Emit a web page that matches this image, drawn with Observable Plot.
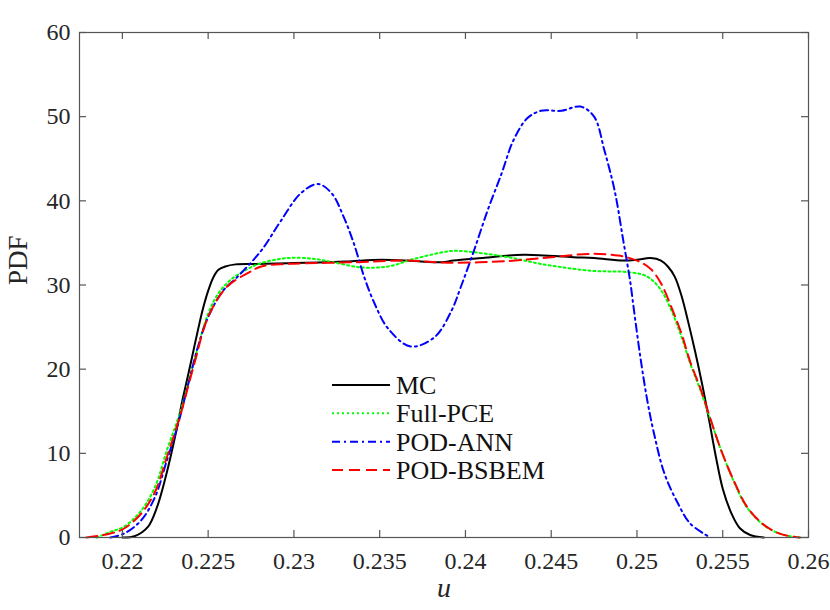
<!DOCTYPE html>
<html><head><meta charset="utf-8">
<script src="https://cdn.jsdelivr.net/npm/d3@7"></script>
<script src="https://cdn.jsdelivr.net/npm/@observablehq/plot@0.6"></script>
<style>
body{margin:0;background:#fff;}
#wrap{position:relative;width:830px;height:610px;}
#legend{position:absolute;left:0;top:0;pointer-events:none;}
</style></head><body><div id="wrap"></div>
<script>
// ---- data ----
const xTicks = [0.22, 0.225, 0.23, 0.235, 0.24, 0.245, 0.25, 0.255, 0.26];
const yTicks = [0, 10, 20, 30, 40, 50, 60];
const seriesNames = ["MC", "Full-PCE", "POD-ANN", "POD-BSBEM"];
const seriesColors = ["#000000", "#00ff00", "#0000ff", "#ff0000"];
const seriesDash = [null, "2,3", "8,4,2,4", "11,6"];

const mc = [[0.2200,0],[0.2207,0.15],[0.2215,1.3],[0.2220,3.5],[0.2225,7.0],[0.2229,10.4],[0.2232,13.2],[0.2235,16.3],[0.2238,19.0],[0.2241,21.8],[0.2244,24.6],[0.2247,27.2],[0.2250,29.3],[0.2253,30.9],[0.2256,31.8],[0.2260,32.2],[0.2266,32.45],[0.2277,32.5],[0.2300,32.6],[0.2330,32.8],[0.2351,33.0],[0.2370,32.85],[0.2386,32.7],[0.2393,32.9],[0.2410,33.2],[0.2434,33.6],[0.2463,33.3],[0.2475,33.2],[0.2492,32.9],[0.2500,33.0],[0.2508,33.2],[0.2514,32.9],[0.2518,32.2],[0.2522,31.0],[0.2526,28.7],[0.2530,25.5],[0.2534,22.0],[0.2538,18.2],[0.2542,14.0],[0.2546,9.6],[0.2550,5.8],[0.2555,2.9],[0.2560,1.1],[0.2566,0.3],[0.2574,0]];
const fullPce = [[0.2185,0],[0.2193,0.67],[0.2201,1.3],[0.2211,3.2],[0.2219,6.0],[0.2226,10.4],[0.2234,15.1],[0.2242,21.1],[0.2250,26.6],[0.2256,29.0],[0.2263,30.6],[0.2273,31.9],[0.2281,32.6],[0.2296,33.2],[0.2312,33.1],[0.2323,32.7],[0.2339,32.1],[0.2355,32.2],[0.2370,33.1],[0.2390,34.0],[0.2397,34.05],[0.2425,33.3],[0.2444,32.5],[0.2473,31.7],[0.2496,31.5],[0.2506,31.0],[0.2514,29.4],[0.2520,27.0],[0.2526,23.8],[0.2531,20.7],[0.2537,17.5],[0.2543,13.9],[0.2549,10.4],[0.2557,6.4],[0.2564,3.6],[0.2574,1.46],[0.2584,0.4],[0.2595,0]];
const podAnn = [[0.2193,0],[0.2201,0.47],[0.2211,2.05],[0.2219,4.8],[0.2226,9.2],[0.2232,13.1],[0.2238,17.9],[0.2244,22.6],[0.2250,26.2],[0.2259,29.4],[0.2267,30.95],[0.2281,34.1],[0.2292,37.5],[0.2304,40.9],[0.2314,42.0],[0.2322,40.9],[0.2329,38.1],[0.2335,34.9],[0.2341,30.95],[0.2347,27.8],[0.2355,24.8],[0.2368,22.7],[0.2382,23.8],[0.2392,27.0],[0.2397,29.6],[0.2405,34.1],[0.2413,38.9],[0.2421,43.2],[0.2428,47.2],[0.2436,49.8],[0.2444,50.7],[0.2456,50.7],[0.2467,51.2],[0.2475,50.0],[0.2481,46.0],[0.2487,41.2],[0.2492,35.3],[0.2496,30.5],[0.2498,27.4],[0.2502,21.4],[0.2506,16.3],[0.2510,12.3],[0.2516,7.6],[0.2524,4.0],[0.2531,1.66],[0.2541,0.2]];
const podBsbem = [[0.2179,0],[0.2193,0.47],[0.2201,1.07],[0.2211,2.85],[0.2219,5.4],[0.2226,9.6],[0.2234,14.7],[0.2242,20.7],[0.2250,26.2],[0.2261,29.8],[0.2273,31.4],[0.2281,32.2],[0.2296,32.5],[0.2335,32.7],[0.2366,32.9],[0.2390,32.65],[0.2425,32.85],[0.2450,33.3],[0.2473,33.7],[0.2489,33.5],[0.2500,32.9],[0.2508,31.9],[0.2514,30.2],[0.2520,27.4],[0.2526,24.2],[0.2531,20.9],[0.2537,17.7],[0.2543,14.0],[0.2549,10.4],[0.2557,6.5],[0.2564,3.7],[0.2574,1.5],[0.2584,0.4],[0.2595,0]];

const seriesData = [mc, fullPce, podAnn, podBsbem];

// ---- layout ----
const width = 830, height = 610;
const mL = 79, mT = 32, mR = 22, mB = 73;
const W = width - mL - mR, H = height - mT - mB;
const tickLen = 7;
const axisColor = "#555555";
const font = "Liberation Serif";

const rows = seriesData.flatMap((arr, i) => arr.map(([u, p]) => ({u, p, s: seriesNames[i]})));

const lineMarks = seriesNames.map((name, i) =>
  Plot.line(rows.filter(d => d.s === name), {
    x: "u", y: "p", stroke: seriesColors[i], strokeWidth: 2,
    strokeDasharray: seriesDash[i] || undefined, curve: "catmull-rom"
  })
);

const fmt = d => String(+d.toFixed(3));

const chart = Plot.plot({
  width, height,
  marginLeft: mL, marginTop: mT, marginRight: mR, marginBottom: mB,
  style: {fontFamily: font, fontSize: "24px", color: "#262626", background: "#fff"},
  x: {domain: [0.2175, 0.26]},
  y: {domain: [0, 60]},
  marks: [
    ...lineMarks,
    Plot.frame({stroke: axisColor, strokeWidth: 1.2}),
    Plot.tickX(xTicks, {x: d => d, insetTop: H - tickLen, stroke: axisColor, strokeWidth: 1.2}),
    Plot.tickX(xTicks, {x: d => d, insetBottom: H - tickLen, stroke: axisColor, strokeWidth: 1.2}),
    Plot.tickY(yTicks, {y: d => d, insetRight: W - tickLen, stroke: axisColor, strokeWidth: 1.2}),
    Plot.tickY(yTicks, {y: d => d, insetLeft: W - tickLen, stroke: axisColor, strokeWidth: 1.2}),
    Plot.axisX(xTicks, {tickSize: 0, tickPadding: 14, tickFormat: fmt, label: null, fontSize: 24, fontFamily: font}),
    Plot.axisY(yTicks, {tickSize: 0, tickPadding: 9, label: null, fontSize: 24, fontFamily: font}),
    Plot.text(["u"], {frameAnchor: "bottom", text: d => d, dy: 59, fontSize: 28, fontStyle: "italic", fontFamily: font, fill: "#262626"}),
    Plot.text(["PDF"], {frameAnchor: "left", text: d => d, rotate: -90, dx: -61, fontSize: 27, fontFamily: font, fill: "#262626"})
  ]
});

const wrap = document.getElementById("wrap");
wrap.appendChild(chart);

// ---- legend ----
const legendY = [385, 413.3, 441.7, 470];
const leg = d3.select(wrap).append("svg").attr("id", "legend")
  .attr("width", width).attr("height", height);
seriesNames.forEach((name, i) => {
  leg.append("line").attr("x1", 332).attr("x2", 390).attr("y1", legendY[i]).attr("y2", legendY[i])
    .attr("stroke", seriesColors[i]).attr("stroke-width", 2)
    .attr("stroke-dasharray", seriesDash[i] || null);
  leg.append("text").attr("x", 396).attr("y", legendY[i]).attr("dy", "0.34em")
    .attr("font-family", font).attr("font-size", 26).attr("fill", "#111")
    .text(name);
});
</script></body></html>
